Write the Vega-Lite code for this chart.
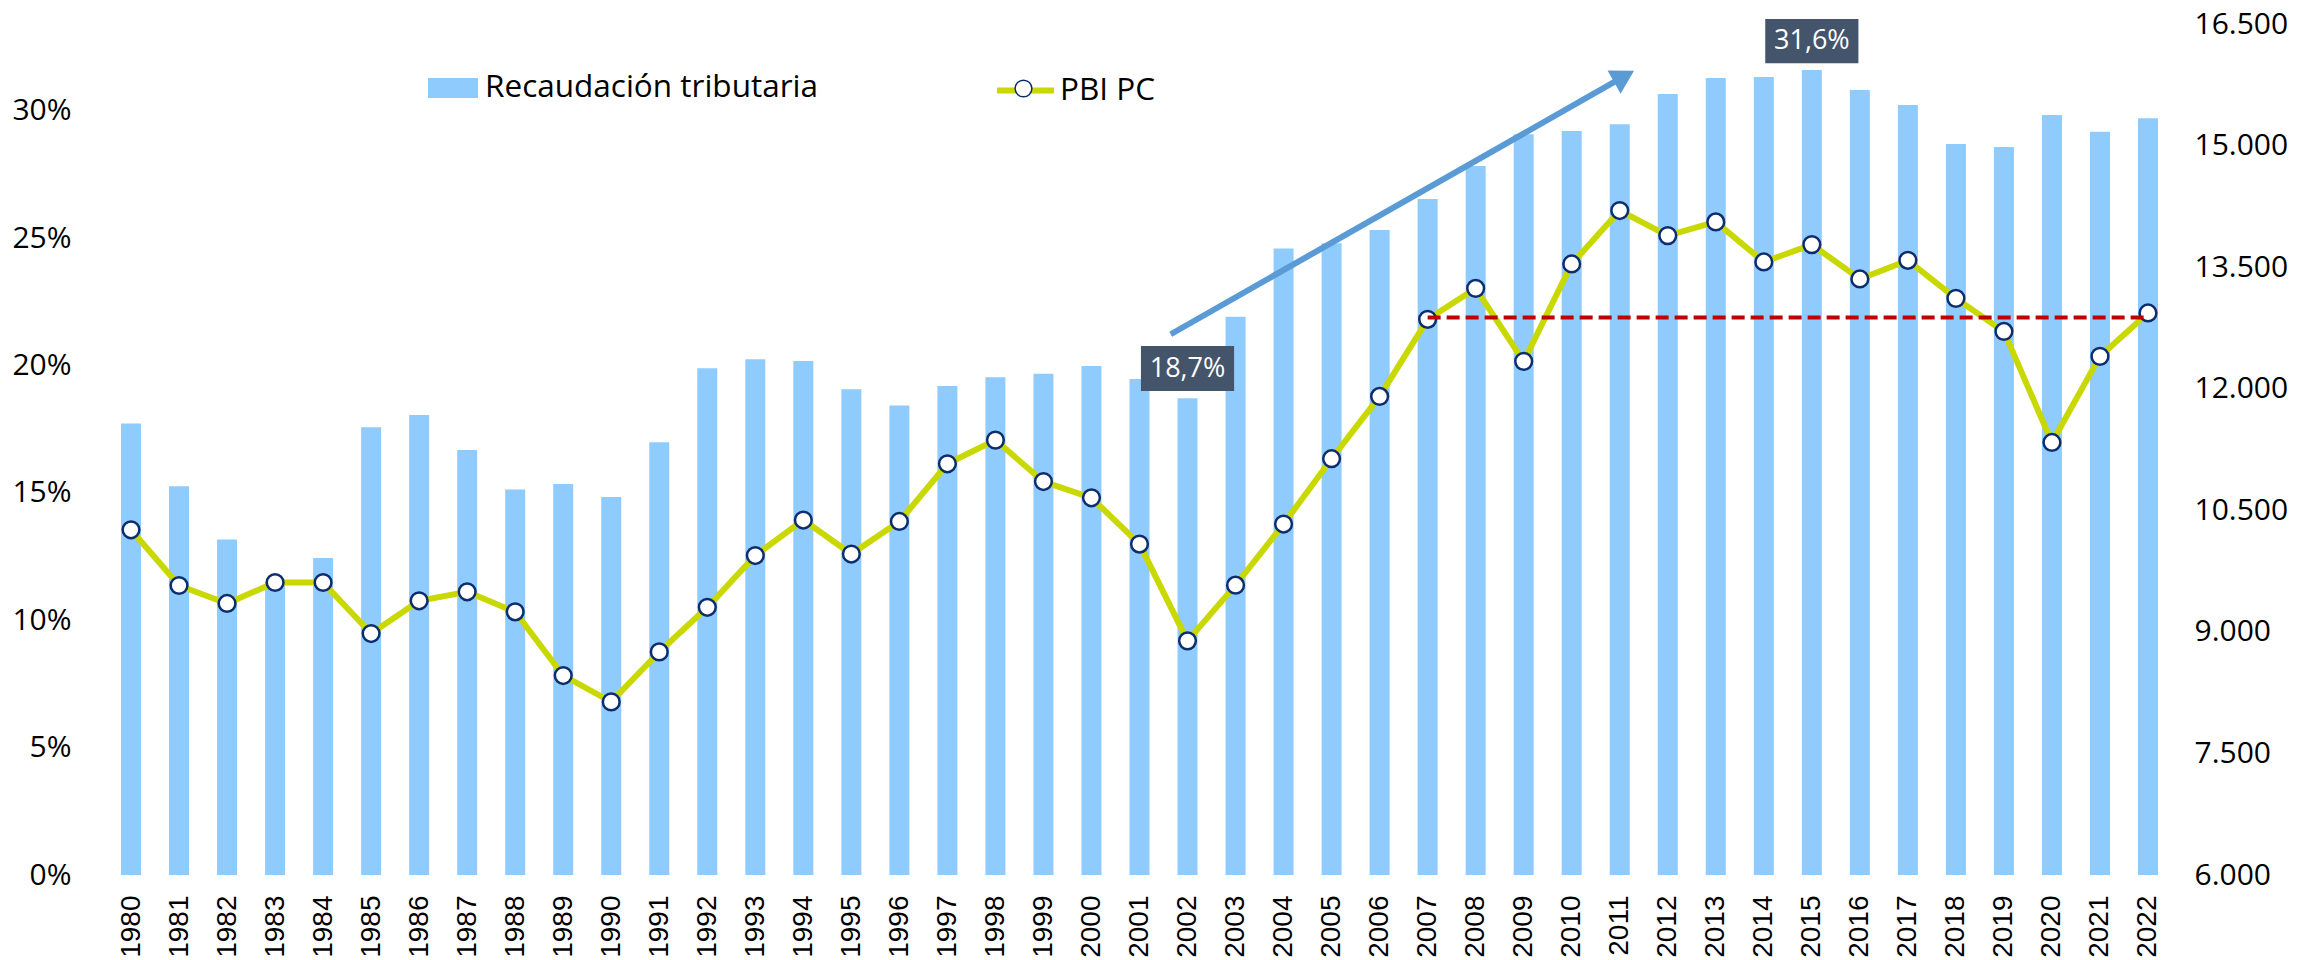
{
  "$schema": "https://vega.github.io/schema/vega-lite/v6.json",
  "autosize": "none",
  "padding": {"left": 102, "top": 24, "right": 141, "bottom": 85},
  "width": 2075,
  "height": 851,
  "background": "white",
  "config": {
    "font": "Open Sans",
    "view": {"stroke": null},
    "axis": {"labelFont": "Open Sans", "labelFontSize": 30, "labelColor": "#000000", "domain": false, "ticks": false, "grid": false, "title": null},
    "legend": {"labelFont": "Open Sans", "labelFontSize": 31.5, "labelColor": "#000000", "padding": 0, "labelLimit": 0}
  },
  "datasets": {
    "main": [
      {"year": 1980, "rec": 0.1773, "pbi": 10259},
      {"year": 1981, "rec": 0.1526, "pbi": 9572},
      {"year": 1982, "rec": 0.1317, "pbi": 9350},
      {"year": 1983, "rec": 0.115, "pbi": 9609},
      {"year": 1984, "rec": 0.1245, "pbi": 9609},
      {"year": 1985, "rec": 0.1758, "pbi": 8979},
      {"year": 1986, "rec": 0.1806, "pbi": 9383},
      {"year": 1987, "rec": 0.1669, "pbi": 9494},
      {"year": 1988, "rec": 0.1513, "pbi": 9247},
      {"year": 1989, "rec": 0.1535, "pbi": 8461},
      {"year": 1990, "rec": 0.1484, "pbi": 8136},
      {"year": 1991, "rec": 0.1699, "pbi": 8753},
      {"year": 1992, "rec": 0.1989, "pbi": 9303},
      {"year": 1993, "rec": 0.2025, "pbi": 9942},
      {"year": 1994, "rec": 0.2018, "pbi": 10380},
      {"year": 1995, "rec": 0.1907, "pbi": 9960},
      {"year": 1996, "rec": 0.1843, "pbi": 10362},
      {"year": 1997, "rec": 0.192, "pbi": 11074},
      {"year": 1998, "rec": 0.1954, "pbi": 11366},
      {"year": 1999, "rec": 0.1968, "pbi": 10855},
      {"year": 2000, "rec": 0.1998, "pbi": 10654},
      {"year": 2001, "rec": 0.1947, "pbi": 10083},
      {"year": 2002, "rec": 0.1872, "pbi": 8889},
      {"year": 2003, "rec": 0.2192, "pbi": 9576},
      {"year": 2004, "rec": 0.246, "pbi": 10330},
      {"year": 2005, "rec": 0.248, "pbi": 11136},
      {"year": 2006, "rec": 0.2532, "pbi": 11905},
      {"year": 2007, "rec": 0.2654, "pbi": 12856},
      {"year": 2008, "rec": 0.2784, "pbi": 13238},
      {"year": 2009, "rec": 0.2908, "pbi": 12337},
      {"year": 2010, "rec": 0.2921, "pbi": 13539},
      {"year": 2011, "rec": 0.2947, "pbi": 14198},
      {"year": 2012, "rec": 0.3066, "pbi": 13889},
      {"year": 2013, "rec": 0.3129, "pbi": 14058},
      {"year": 2014, "rec": 0.3133, "pbi": 13564},
      {"year": 2015, "rec": 0.316, "pbi": 13778},
      {"year": 2016, "rec": 0.3082, "pbi": 13354},
      {"year": 2017, "rec": 0.3023, "pbi": 13584},
      {"year": 2018, "rec": 0.287, "pbi": 13115},
      {"year": 2019, "rec": 0.2858, "pbi": 12707},
      {"year": 2020, "rec": 0.2984, "pbi": 11337},
      {"year": 2021, "rec": 0.2918, "pbi": 12399},
      {"year": 2022, "rec": 0.2971, "pbi": 12935}
    ],
    "dashed": [
      {"year": 2007, "pbi": 12880},
      {"year": 2022, "pbi": 12880}
    ],
    "arrow": [
      {"year": 2001.65, "rec": 0.2123},
      {"year": 2011.09, "rec": 0.3135}
    ],
    "arrowhead": [
      {"year": 2011.09, "rec": 0.3135}
    ],
    "labels": [
      {"x1": 2001.03, "x2": 2002.97, "xc": 2002, "lo": 0.19, "hi": 0.2077, "mid": 0.1988, "text": "18,7%"},
      {"x1": 2014.03, "x2": 2015.97, "xc": 2015, "lo": 0.3187, "hi": 0.3361, "mid": 0.3274, "text": "31,6%"}
    ]
  },
  "resolve": {"scale": {"y": "independent"}},
  "layer": [
    {
      "layer": [
        {
          "data": {"name": "main"},
          "mark": {"type": "bar", "orient": "vertical", "width": 20},
          "encoding": {
            "x": {"field": "year", "type": "quantitative", "scale": {"domain": [1979.5, 2022.5], "nice": false, "zero": false},
                  "axis": {"values": [1980,1981,1982,1983,1984,1985,1986,1987,1988,1989,1990,1991,1992,1993,1994,1995,1996,1997,1998,1999,2000,2001,2002,2003,2004,2005,2006,2007,2008,2009,2010,2011,2012,2013,2014,2015,2016,2017,2018,2019,2020,2021,2022], "format": "d", "labelAngle": -90, "labelPadding": 20, "labelFlush": false, "labelOverlap": false, "labelFont": "Liberation Sans", "labelFontSize": 28}},
            "y": {"field": "rec", "type": "quantitative", "scale": {"domain": [0, 0.3341], "nice": false, "zero": true},
                  "axis": {"orient": "left", "values": [0, 0.05, 0.1, 0.15, 0.2, 0.25, 0.3], "format": ".0%", "labelPadding": 31}},
            "fill": {"datum": "Recaudación tributaria", "scale": {"range": ["#8FCBFD"]},
                     "legend": {"orient": "none", "legendX": 326, "legendY": 39, "title": null, "symbolType": "M-1,-0.4L1,-0.4L1,0.4L-1,0.4Z", "symbolSize": 2500, "symbolStrokeWidth": 0, "labelOffset": 7}}
          }
        },
        {
          "data": {"name": "arrow"},
          "mark": {"type": "line", "color": "#5B9BD5", "strokeWidth": 6},
          "encoding": {
            "x": {"field": "year", "type": "quantitative"},
            "y": {"field": "rec", "type": "quantitative"}
          }
        },
        {
          "data": {"name": "arrowhead"},
          "mark": {"type": "point", "shape": "triangle-up", "filled": true, "color": "#5B9BD5", "size": 700, "angle": 60.5, "opacity": 1},
          "encoding": {
            "x": {"field": "year", "type": "quantitative"},
            "y": {"field": "rec", "type": "quantitative"}
          }
        },
        {
          "data": {"name": "labels"},
          "mark": {"type": "rect", "color": "#44546A"},
          "encoding": {
            "x": {"field": "x1", "type": "quantitative"},
            "x2": {"field": "x2"},
            "y": {"field": "lo", "type": "quantitative"},
            "y2": {"field": "hi"}
          }
        },
        {
          "data": {"name": "labels"},
          "mark": {"type": "text", "color": "#FFFFFF", "font": "Open Sans", "fontSize": 27, "align": "center", "baseline": "middle"},
          "encoding": {
            "x": {"field": "xc", "type": "quantitative"},
            "y": {"field": "mid", "type": "quantitative"},
            "text": {"field": "text"}
          }
        }
      ]
    },
    {
      "layer": [
        {
          "data": {"name": "main"},
          "mark": {"type": "line", "strokeWidth": 6},
          "encoding": {
            "x": {"field": "year", "type": "quantitative"},
            "y": {"field": "pbi", "type": "quantitative", "scale": {"domain": [6000, 16500], "nice": false, "zero": false},
                  "axis": {"orient": "right", "values": [6000, 7500, 9000, 10500, 12000, 13500, 15000, 16500], "labelExpr": "replace(format(datum.value, ',d'), ',', '.')", "labelPadding": 17}},
            "stroke": {"datum": "PBI PC", "scale": {"range": ["#C8D800"]},
                       "legend": {"orient": "none", "legendX": 892, "legendY": 35, "title": null, "symbolType": "stroke", "symbolSize": 3249, "symbolStrokeWidth": 6, "symbolDash": [1, 0], "labelOffset": 3,
                                  "encode": {"symbols": {"update": {"strokeDash": {"value": []}}}}}}
          }
        },
        {
          "data": {"name": "main"},
          "mark": {"type": "point", "filled": true, "fill": "#FFFFFF", "stroke": "#0E2D6E", "strokeWidth": 2.5, "size": 280, "opacity": 1},
          "encoding": {
            "x": {"field": "year", "type": "quantitative"},
            "y": {"field": "pbi", "type": "quantitative"},
            "shape": {"datum": "marcador", "scale": {"range": ["circle"]},
                      "legend": {"orient": "none", "legendX": 912, "legendY": 55, "title": null, "symbolSize": 280, "symbolOpacity": 1, "labelExpr": "''", "labelFontSize": 1,
                                 "encode": {"symbols": {"update": {"fill": {"value": "#FFFFFF"}, "stroke": {"value": "#0E2D6E"}, "strokeWidth": {"value": 2.5}, "opacity": {"value": 1}}}}}}
          }
        },
        {
          "data": {"name": "dashed"},
          "mark": {"type": "line", "color": "#C00000", "strokeWidth": 4, "strokeDash": [13, 6]},
          "encoding": {
            "x": {"field": "year", "type": "quantitative"},
            "y": {"field": "pbi", "type": "quantitative"}
          }
        }
      ]
    }
  ]
}
